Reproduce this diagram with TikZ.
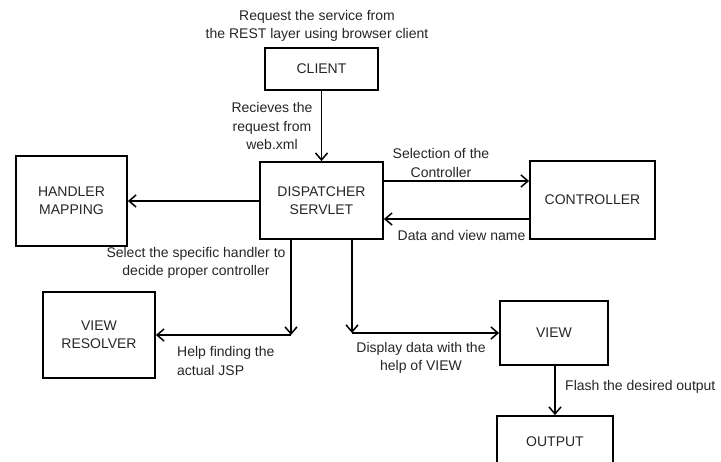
\documentclass[tikz,border=0pt]{standalone}
\usepackage{fontspec}
\setmainfont{Liberation Sans}
\usetikzlibrary{arrows.meta,calc}
\begin{document}
\begin{tikzpicture}[x=1pt,y=-1pt,
  txt/.style={font=\fontsize{14}{18.5}\selectfont, text=black!85, inner sep=0pt, align=center},
  blk/.style={draw, line width=1.8pt, txt, minimum width=#1},
  arr/.style={line width=1.8pt, -{Straight Barb[length=7pt,width=12pt,line width=1.5pt]}}]
  \useasboundingbox[fill=white] (0,0) rectangle (721,462);
  \begin{scope}
  \clip (0,0) rectangle (721,462);

  % component boxes
  \node[blk=113pt, minimum height=42pt] (client) at (321.5,69) {CLIENT};
  \node[blk=123pt, minimum height=77pt] (disp) at (321.5,200.5) {DISPATCHER\\SERVLET};
  \node[blk=111pt, minimum height=90pt] (hm) at (71.5,201) {HANDLER\\MAPPING};
  \node[blk=125pt, minimum height=78pt] (ctrl) at (592.5,200) {CONTROLLER};
  \node[blk=112pt, minimum height=86pt] (vr) at (99,335) {VIEW\\RESOLVER};
  \node[blk=108pt, minimum height=64pt] (view) at (554,333) {VIEW};
  \node[blk=116pt, minimum height=52pt] (out) at (555,442) {OUTPUT};

  % bend points below the dispatcher
  \coordinate (c1) at (291,335);
  \coordinate (c2) at (352,333);
  \coordinate (ca) at (0,181);
  \coordinate (cb) at (0,219);

  % connectors
  \draw[arr] (client) -- (disp);
  \draw[arr] (disp.west |- hm) -- (hm.east);
  \draw[arr] (disp.east |- ca) -- (ctrl.west |- ca);
  \draw[arr] (ctrl.west |- cb) -- (disp.east |- cb);
  \draw[arr] (c1 |- disp.south) -- (c1);
  \draw[arr] (c1) -- (vr.east |- c1);
  \draw[arr] (c2 |- disp.south) -- (c2);
  \draw[arr] (c2) -- (view.west |- c2);
  \draw[arr] (view.south -| out.north) -- (out.north);

  % labels
  \node[txt] (l1) at (317,26) {Request the service from\\the REST layer using browser client};
  \node[txt] (l2) at (272,126) {Recieves the\\request from\\web.xml};
  \node[txt] (l3) at (441,163) {Selection of the\\Controller};
  \node[txt] (l4) at (461.5,235) {Data and view name};
  \node[txt] (l5) at (196,263) {Select the specific handler to\\decide proper controller};
  \node[txt, anchor=west, align=left] (l6) at (177,361) {Help finding the\\actual JSP};
  \node[txt] (l7) at (421,358) {Display data with the\\help of VIEW};
  \node[txt, anchor=west] (l8) at (565,387) {Flash the desired output};
  \end{scope}
\end{tikzpicture}
\end{document}
